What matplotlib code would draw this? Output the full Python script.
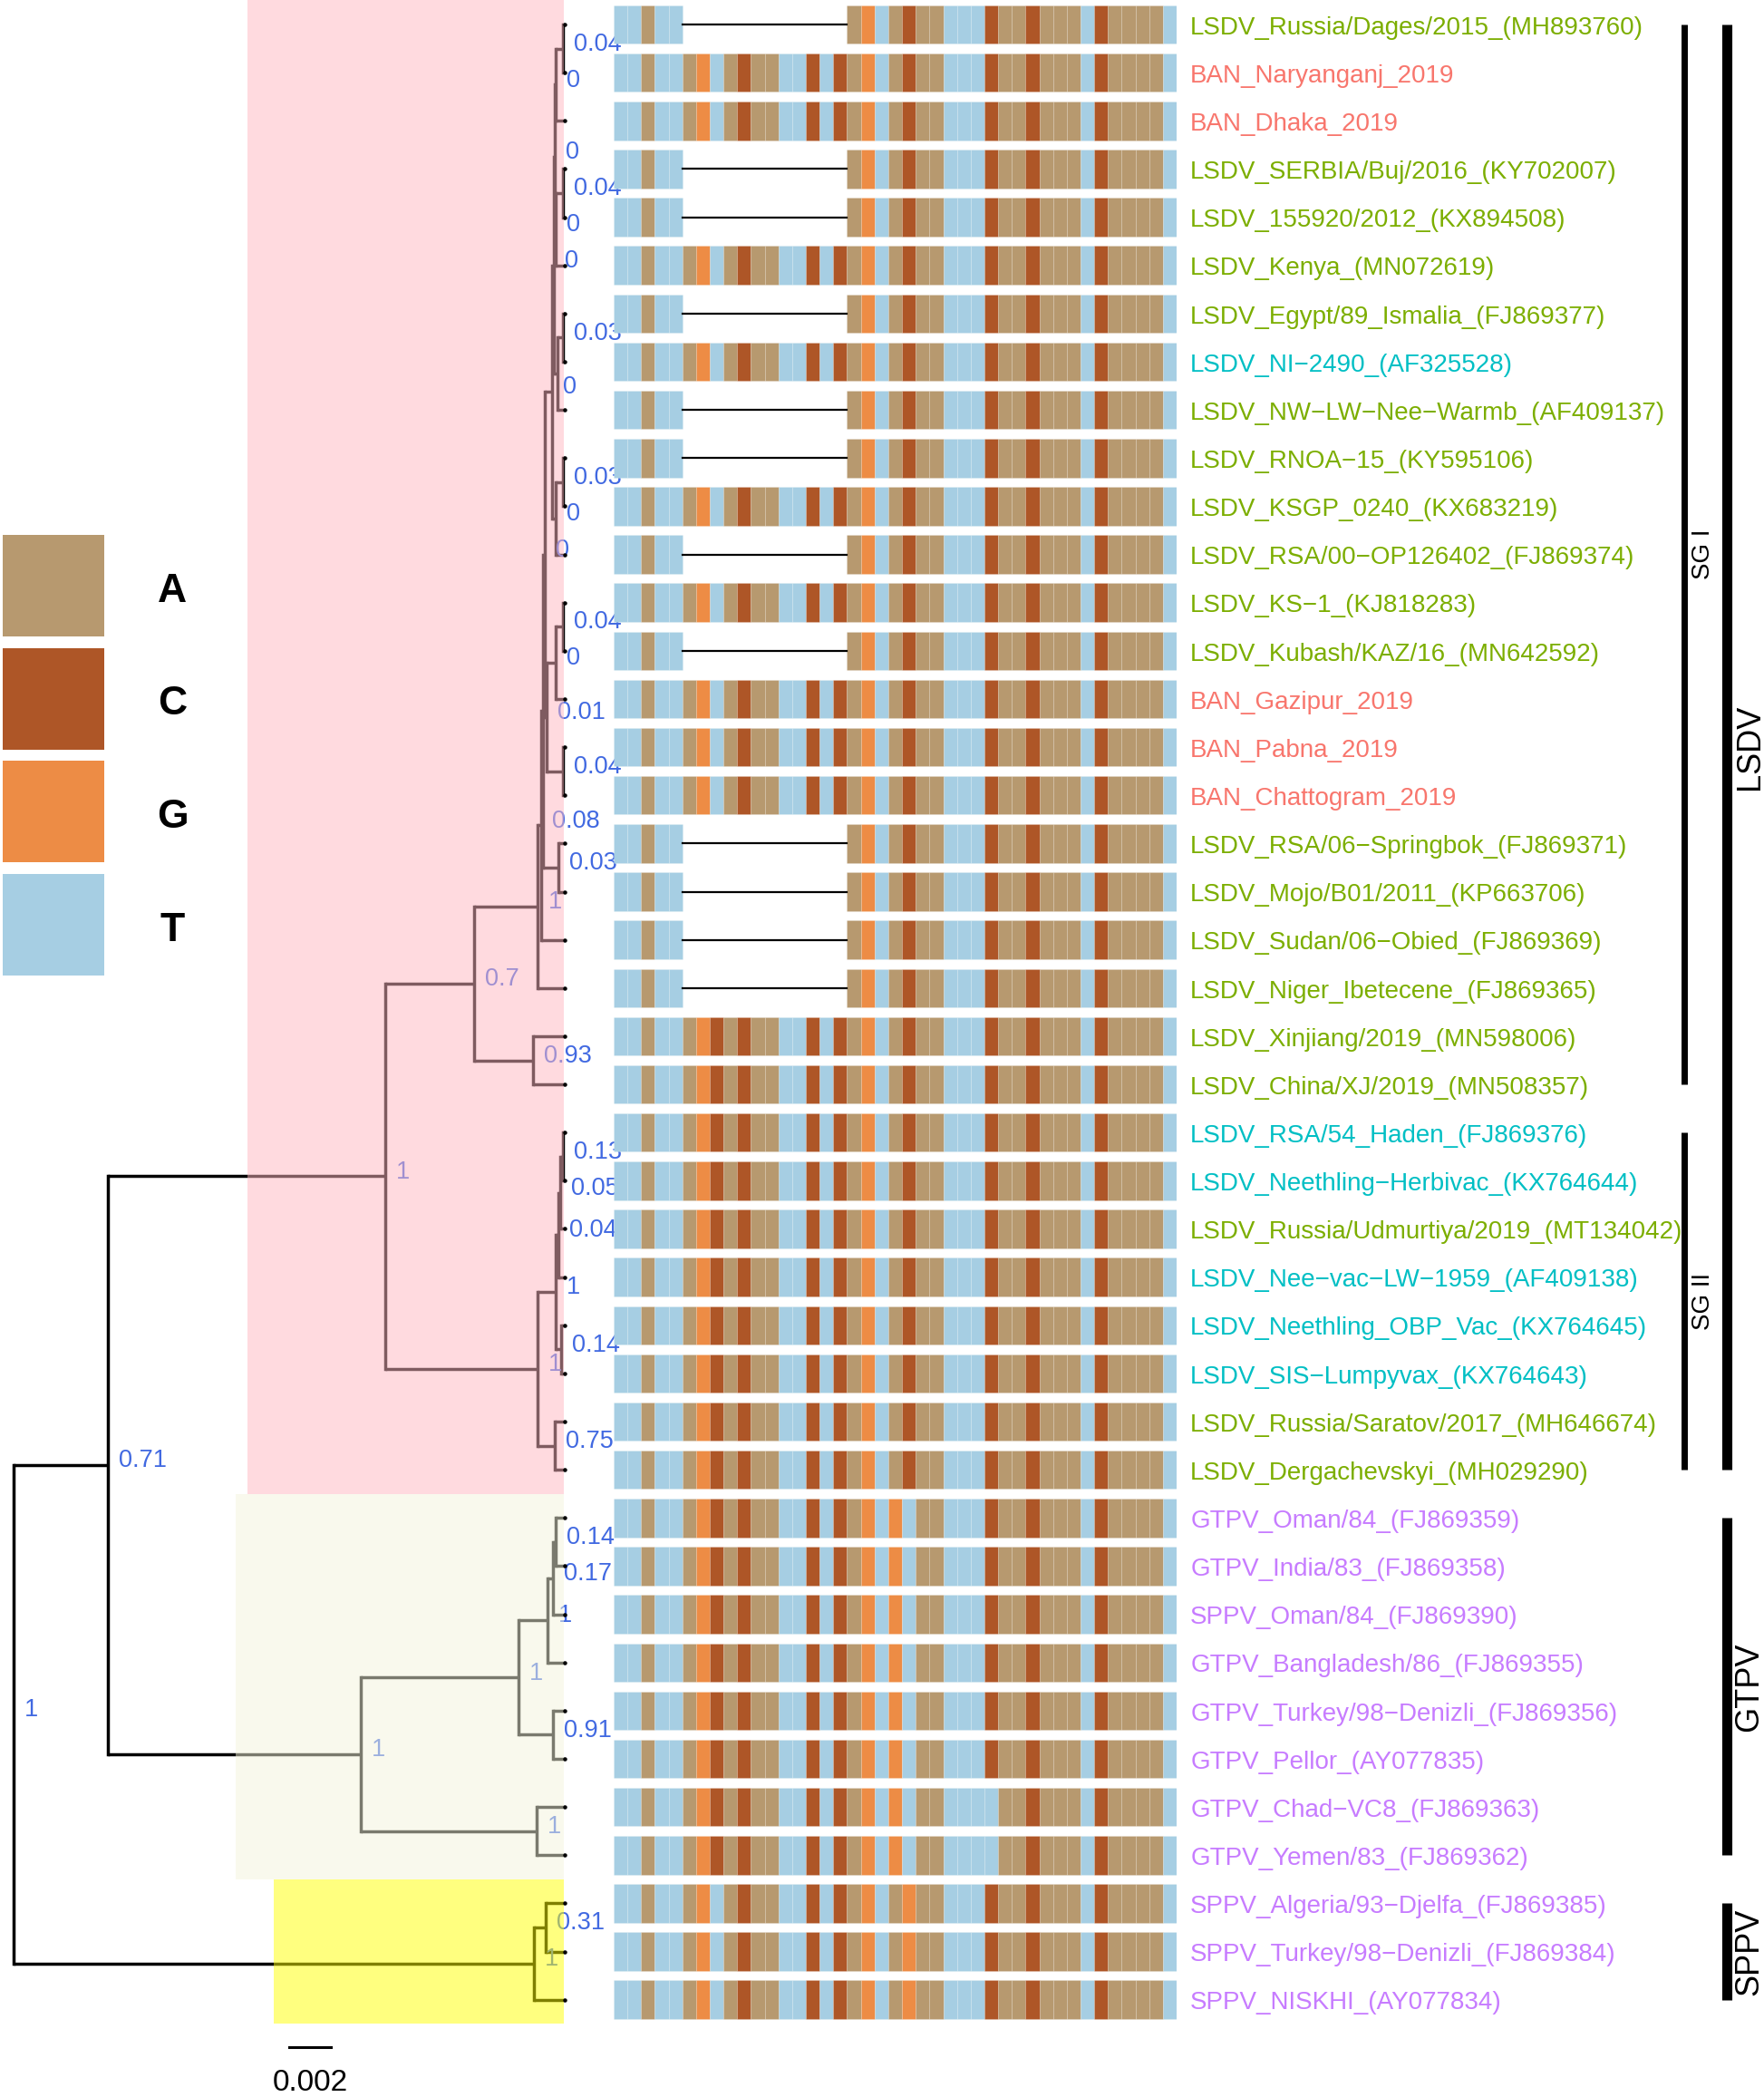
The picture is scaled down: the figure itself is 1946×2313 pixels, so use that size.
import numpy as np
import matplotlib.pyplot as plt

plt.rcParams['font.family'] = ['Liberation Sans', 'DejaVu Sans']

# ---- tips (top to bottom) ----
tip_labels = [
    "LSDV_Russia/Dages/2015_(MH893760)", "BAN_Naryanganj_2019", "BAN_Dhaka_2019",
    "LSDV_SERBIA/Buj/2016_(KY702007)", "LSDV_155920/2012_(KX894508)", "LSDV_Kenya_(MN072619)",
    "LSDV_Egypt/89_Ismalia_(FJ869377)", "LSDV_NI\u22122490_(AF325528)",
    "LSDV_NW\u2212LW\u2212Nee\u2212Warmb_(AF409137)", "LSDV_RNOA\u221215_(KY595106)",
    "LSDV_KSGP_0240_(KX683219)", "LSDV_RSA/00\u2212OP126402_(FJ869374)", "LSDV_KS\u22121_(KJ818283)",
    "LSDV_Kubash/KAZ/16_(MN642592)", "BAN_Gazipur_2019", "BAN_Pabna_2019", "BAN_Chattogram_2019",
    "LSDV_RSA/06\u2212Springbok_(FJ869371)", "LSDV_Mojo/B01/2011_(KP663706)",
    "LSDV_Sudan/06\u2212Obied_(FJ869369)", "LSDV_Niger_Ibetecene_(FJ869365)",
    "LSDV_Xinjiang/2019_(MN598006)", "LSDV_China/XJ/2019_(MN508357)",
    "LSDV_RSA/54_Haden_(FJ869376)", "LSDV_Neethling\u2212Herbivac_(KX764644)",
    "LSDV_Russia/Udmurtiya/2019_(MT134042)", "LSDV_Nee\u2212vac\u2212LW\u22121959_(AF409138)",
    "LSDV_Neethling_OBP_Vac_(KX764645)", "LSDV_SIS\u2212Lumpyvax_(KX764643)",
    "LSDV_Russia/Saratov/2017_(MH646674)", "LSDV_Dergachevskyi_(MH029290)",
    "GTPV_Oman/84_(FJ869359)", "GTPV_India/83_(FJ869358)", "SPPV_Oman/84_(FJ869390)",
    "GTPV_Bangladesh/86_(FJ869355)", "GTPV_Turkey/98\u2212Denizli_(FJ869356)", "GTPV_Pellor_(AY077835)",
    "GTPV_Chad\u2212VC8_(FJ869363)", "GTPV_Yemen/83_(FJ869362)",
    "SPPV_Algeria/93\u2212Djelfa_(FJ869385)", "SPPV_Turkey/98\u2212Denizli_(FJ869384)",
    "SPPV_NISKHI_(AY077834)",
]
tip_groups = (["LSDV", "BAN", "BAN"] + ["LSDV"] * 4 + ["VAC"] + ["LSDV"] * 6 + ["BAN"] * 3
              + ["LSDV"] * 6 + ["VAC", "VAC", "LSDV", "VAC", "VAC", "VAC", "LSDV", "LSDV"]
              + ["CAPV"] * 11)
group_colors = {"BAN": "#F8766D", "LSDV": "#7CAE00", "VAC": "#00BFC4", "CAPV": "#C77CFF"}

# ---- alignment (41 sites) ----
sequences = [
    "TTATT------------AGTACAATTTCAACAAATCAAAAT",
    "TTATTAGTACAATTCTCAGTACAATTTCAACAAATCAAAAT",
    "TTATTAGTACAATTCTCAGTACAATTTCAACAAATCAAAAT",
    "TTATT------------AGTACAATTTCAACAAATCAAAAT",
    "TTATT------------AGTACAATTTCAACAAATCAAAAT",
    "TTATTAGTACAATTCTCAGTACAATTTCAACAAATCAAAAT",
    "TTATT------------AGTACAATTTCAACAAATCAAAAT",
    "TTATTAGTACAATTCTCAGTACAATTTCAACAAATCAAAAT",
    "TTATT------------AGTACAATTTCAACAAATCAAAAT",
    "TTATT------------AGTACAATTTCAACAAATCAAAAT",
    "TTATTAGTACAATTCTCAGTACAATTTCAACAAATCAAAAT",
    "TTATT------------AGTACAATTTCAACAAATCAAAAT",
    "TTATTAGTACAATTCTCAGTACAATTTCAACAAATCAAAAT",
    "TTATT------------AGTACAATTTCAACAAATCAAAAT",
    "TTATTAGTACAATTCTCAGTACAATTTCAACAAATCAAAAT",
    "TTATTAGTACAATTCTCAGTACAATTTCAACAAATCAAAAT",
    "TTATTAGTACAATTCTCAGTACAATTTCAACAAATCAAAAT",
    "TTATT------------AGTACAATTTCAACAAATCAAAAT",
    "TTATT------------AGTACAATTTCAACAAATCAAAAT",
    "TTATT------------AGTACAATTTCAACAAATCAAAAT",
    "TTATT------------AGTACAATTTCAACAAATCAAAAT",
    "TTATTAGCACAATTCTCAGTACAATTTCAACAAATCAAAAT",
    "TTATTAGCACAATTCTCAGTACAATTTCAACAAATCAAAAT",
    "TTATTAGCACAATTCTCAGTACAATTTCAACAAATCAAAAT",
    "TTATTAGCACAATTCTCAGTACAATTTCAACAAATCAAAAT",
    "TTATTAGCACAATTCTCAGTACAATTTCAACAAATCAAAAT",
    "TTATTAGCACAATTCTCAGTACAATTTCAACAAATCAAAAT",
    "TTATTAGCACAATTCTCAGTACAATTTCAACAAATCAAAAT",
    "TTATTAGCACAATTCTCAGTACAATTTCAACAAATCAAAAT",
    "TTATTAGCACAATTCTCAGTACAATTTCAACAAATCAAAAT",
    "TTATTAGCACAATTCTCAGTACAATTTCAACAAATCAAAAT",
    "TTATTAGCACAATTCTCAGTGTAATTTCAACAAATCAAAAT",
    "TTATTAGCACAATTCTCAGTGTAATTTCAACAAATCAAAAT",
    "TTATTAGCACAATTCTCAGTGTAATTTCAACAAATCAAAAT",
    "TTATTAGCACAATTCTCAGTGTAATTTCAACAAATCAAAAT",
    "TTATTAGCACAATTCTCAGTGTAATTTCAACAAATCAAAAT",
    "TTATTAGCACAATTCTCAGTGTAATTTCAACAAATCAAAAT",
    "TTATTAGCACAATTCTCAGTGTAATTTTAACAAATCAAAAT",
    "TTATTAGCACAATTCTCAGTGTAATTTTAACAAATCAAAAT",
    "TTATTAGTACAATTCTCAGTAGAATTTCAACAAATCAAAAT",
    "TTATTAGTACAATTCTCAGTAGAATTTCAACAAATCAAAAT",
    "TTATTAGTACAATTCTCAGTAGAATTTCAACAAATCAAAAT",
]
bases = ["A", "C", "G", "T"]
base_colors = ["#B7996F", "#AE5627", "#ED8C45", "#A6CEE3"]

# ---- tree (internal nodes, x = distance from root) ----
node_names = ["root", "n071", "lsdv", "sg1", "xj", "c", "c2", "c3", "n649", "n415", "n294",
              "n199", "n118", "n64", "n37", "n172", "n145", "n280", "n253", "n388", "n361",
              "n536", "n496", "n469", "n577", "sg2", "n1424", "n1361", "n1314", "n1274",
              "n1487", "n1594", "gtpv", "n1253", "n1210", "n1179", "n1152", "n1296", "n1368",
              "sppv", "n1440"]
node_kids = [("n071", "sppv"), ("lsdv", "gtpv"), ("sg1", "sg2"), ("c", "xj"), (21, 22),
             ("c2", 20), ("c3", 19), ("n415", "n649"), (17, 18), ("n294", "n536"),
             ("n199", "n388"), ("n118", "n280"), ("n64", "n172"), ("n37", 2), (0, 1),
             ("n145", 5), (3, 4), ("n253", 8), (6, 7), ("n361", 11), (9, 10),
             ("n496", "n577"), ("n469", 14), (12, 13), (15, 16), ("n1424", "n1594"),
             ("n1361", "n1487"), ("n1314", 26), ("n1274", 25), (23, 24), (27, 28), (29, 30),
             ("n1253", "n1368"), ("n1210", "n1296"), ("n1179", 34), ("n1152", 33), (31, 32),
             (35, 36), (37, 38), ("n1440", 41), (39, 40)]
node_x = [0.0, 0.00454, 0.01783, 0.02209, 0.02491, 0.02513, 0.02530, 0.02539, 0.02613,
          0.02548, 0.02583, 0.02591, 0.02596, 0.02602, 0.02635, 0.02602, 0.02635, 0.02609,
          0.02635, 0.02602, 0.02635, 0.02557, 0.02602, 0.02635, 0.02635, 0.02513, 0.02600,
          0.02613, 0.02622, 0.02635, 0.02626, 0.02596, 0.01665, 0.02422, 0.02561, 0.02587,
          0.02600, 0.02587, 0.02509, 0.02496, 0.02552]
node_support = ["1", "0.71", "1", "0.7", "0.93", "1", "0.08", "", "0.03", "0", "0",
                "0", "0", "0", "0.04", "0", "0.04", "", "0.03", "0", "0.03",
                "0.01", "0", "0.04", "0.04", "1", "1", "0.04", "0.05", "0.13",
                "0.14", "0.75", "1", "1", "1", "0.17", "0.14", "0.91", "1", "1", "0.31"]
tip_x = 0.02643

hl_nodes = ["lsdv", "gtpv", "sppv"]
hl_xmin = [0.01122, 0.01064, 0.01248]
hl_colors = ["lightpink", "beige", "yellow"]

clade_names = ["SG I", "SG II", "LSDV", "GTPV", "SPPV"]
clade_first = [0, 23, 0, 31, 39]
clade_last = [22, 30, 30, 38, 41]
clade_level = [0, 0, 1, 1, 1]

# ---- layout ----
W, H = 1946, 2313
row0_px, row_px = 27, 53.14
ylim = ((H - row0_px) / row_px, -row0_px / row_px)
px_per_unit = 23000.0
root_px = 15

fig = plt.figure(figsize=(W / 100, H / 100), dpi=100)
ax = fig.add_axes([0, 0, 1, 1])
ax.set_xlim(-root_px / px_per_unit, (W - root_px) / px_per_unit)
ax.set_ylim(*ylim)
ax.axis("off")

kids = dict(zip(node_names, node_kids))
xpos = dict(zip(node_names, node_x))
ypos = {}


def node_y(n):
    if isinstance(n, int):
        return n
    if n not in ypos:
        ypos[n] = np.mean([node_y(k) for k in kids[n]])
    return ypos[n]


def get_x(n):
    return tip_x if isinstance(n, int) else xpos[n]


def tips_under(n):
    if isinstance(n, int):
        return [n]
    out = []
    for k in kids[n]:
        out += tips_under(k)
    return out


lw = 2.5
for n in node_names:
    ys = [node_y(k) for k in kids[n]]
    ax.plot([xpos[n], xpos[n]], [min(ys), max(ys)], color="black", lw=lw,
            solid_capstyle="projecting", zorder=2)
    for k in kids[n]:
        ax.plot([xpos[n], get_x(k)], [node_y(k), node_y(k)], color="black", lw=lw,
                solid_capstyle="butt", zorder=2)

for n, s in zip(node_names, node_support):
    if s:
        ax.text(xpos[n] + 0.00052, node_y(n) - 0.09, s, color="royalblue",
                fontsize=19.5, ha="left", va="center", zorder=3)

for n, x0, c in zip(hl_nodes, hl_xmin, hl_colors):
    t = tips_under(n)
    ax.fill_betweenx([min(t) - 0.5, max(t) + 0.5], x0, tip_x - 0.00004, color=c,
                     alpha=0.5, lw=0, zorder=4)

ax.plot([tip_x] * len(tip_labels), range(len(tip_labels)), "o", color="black", ms=2.2,
        zorder=5)

# scale bar
sb_x, sb_y, sb_w = 0.01322, 41.98, 0.002
ax.plot([sb_x, sb_x + sb_w], [sb_y, sb_y], color="black", lw=2.2)
ax.text(sb_x + sb_w / 2, sb_y + 0.75, str(sb_w), ha="center", va="center", fontsize=24)

# ---- alignment ----
n_sites = len(sequences[0])
aln_left, aln_right = 677, 1298
ax_aln = fig.add_axes([aln_left / W, 0, (aln_right - aln_left) / W, 1])
ax_aln.set_xlim(0, n_sites)
ax_aln.set_ylim(*ylim)
ax_aln.axis("off")
cmap = dict(zip(bases, base_colors))
for i, seq in enumerate(sequences):
    cols = [j for j, b in enumerate(seq) if b != "-"]
    ax_aln.barh([i] * len(cols), 1, left=cols, height=0.8, align="center",
                color=[cmap[seq[j]] for j in cols], edgecolor=(1, 1, 1, 0.18), linewidth=0.5)
    gaps = [j for j, b in enumerate(seq) if b == "-"]
    if gaps:
        ax_aln.plot([min(gaps), max(gaps) + 1], [i, i], color="black", lw=1.6)
    ax_aln.text(n_sites + 1.0, i + 0.07, tip_labels[i], color=group_colors[tip_groups[i]],
                fontsize=20, ha="left", va="center", clip_on=False)

# ---- clade bars ----
side_left = 1840
ax_side = fig.add_axes([side_left / W, 0, (W - side_left) / W, 1])
ax_side.set_xlim(0, 1)
ax_side.set_ylim(*ylim)
ax_side.axis("off")
bar_x = [0.17, 0.61]
bar_w = [5.0, 8.0]
text_x = [0.37, 0.85]
text_fs = [20, 26]
for name, a, b, lev in zip(clade_names, clade_first, clade_last, clade_level):
    ax_side.plot([bar_x[lev], bar_x[lev]], [a, b], color="black", lw=bar_w[lev],
                 solid_capstyle="butt")
    ax_side.text(text_x[lev], (a + b) / 2, name, rotation=90, ha="center", va="center",
                 fontsize=text_fs[lev])

# ---- legend ----
ax_leg = fig.add_axes([0, (H - 1076) / H, 240 / W, (1076 - 590) / H])
ax_leg.set_xlim(0, 240)
ax_leg.set_ylim(3.45, -0.45)
ax_leg.axis("off")
ax_leg.barh(range(len(bases)), 112, left=3, height=0.9, color=base_colors)
for i, b in enumerate(bases):
    ax_leg.text(190, i + 0.05, b, fontsize=32, fontweight="bold", ha="center", va="center")

fig.savefig("out.png", dpi=100)
